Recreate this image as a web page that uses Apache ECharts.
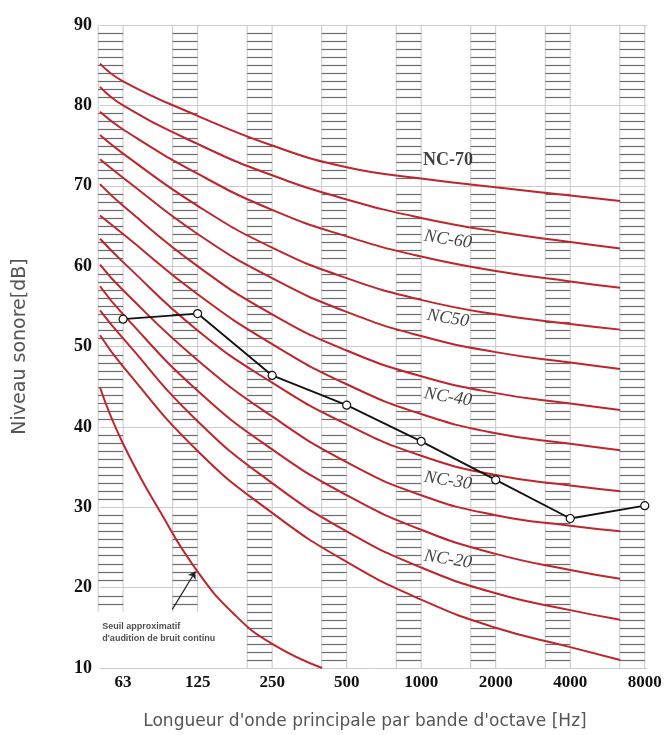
<!DOCTYPE html>
<html>
<head>
<meta charset="utf-8">
<script src="https://cdn.jsdelivr.net/npm/echarts@6/dist/echarts.min.js"></script>
<style>
  html, body { margin: 0; padding: 0; background: #fff; }
  #graphique { width: 669px; height: 735px; }
</style>
</head>
<body>
<div id="graphique"></div>
<script>
// Bandes d'octave (étiquettes de l'axe horizontal)
const frequences = ['63', '125', '250', '500', '1000', '2000', '4000', '8000'];

// Spectre mesuré (dB) par bande d'octave
const niveauxMesures = [53.4, 54.1, 46.4, 42.7, 38.2, 33.4, 28.6, 30.2];

// Abscisses des points des courbes NC (indices de bande ; début et fin du tracé aux extrémités)
const abscissesCourbes = [-0.31, 0, 1, 2, 3, 4, 5, 6, 6.67];

// Courbes NC (dB)
const nc70 = [85.2, 83.0, 78.7, 75.0, 72.3, 70.9, 69.8, 68.8, 68.1];
const nc65 = [82.3, 80.0, 75.2, 71.3, 68.3, 66.0, 64.3, 63.0, 62.2];
const nc60 = [79.2, 77.0, 71.5, 67.0, 63.7, 61.2, 59.4, 58.1, 57.3];
const nc55 = [76.3, 74.0, 67.5, 62.3, 58.5, 55.8, 54.0, 52.8, 52.1];
const nc50 = [73.3, 71.0, 64.0, 58.5, 54.3, 51.3, 49.3, 48.0, 47.2];
const nc45 = [70.2, 67.5, 60.0, 54.0, 49.5, 46.3, 44.2, 42.9, 42.1];
const nc40 = [66.3, 64.0, 56.5, 50.3, 45.3, 41.6, 39.2, 37.9, 37.1];
const nc35 = [63.4, 60.5, 52.0, 45.5, 40.3, 36.4, 34.0, 32.7, 32.0];
const nc30 = [60.2, 57.0, 48.3, 41.3, 35.6, 31.5, 29.0, 27.7, 27.0];
const nc25 = [57.5, 54.0, 44.5, 37.2, 31.5, 27.2, 24.2, 22.2, 21.1];
const nc20 = [54.5, 51.0, 40.7, 33.0, 27.0, 22.5, 19.3, 17.2, 16.0];
const nc15 = [51.4, 47.5, 37.0, 29.3, 23.2, 18.5, 15.0, 12.6, 11.0];
const courbesNC = [nc70, nc65, nc60, nc55, nc50, nc45, nc40, nc35, nc30, nc25, nc20, nc15];

// Seuil approximatif d'audition de bruit continu
const seuilX = [-0.31, 0, 0.5, 1.0, 1.5, 2.0, 2.67];
const seuilY = [44.9, 37.9, 29.4, 22.0, 16.6, 13.0, 10.0];

// Étiquettes des courbes
const etiquettesNC = ['NC-70', 'NC-60', 'NC50', 'NC-40', 'NC-30', 'NC-20'];
const niveauxEtiquettes = [73.2, 63.3, 53.5, 43.7, 33.3, 23.5];
const abscisseEtiquettes = 4.36;

// Bandes hachurées : niveau bas de chaque bande
const basBandes = [17, 17, 10, 10, 10, 10, 10, 10];
const hautBandes = 90;
const largeurBande = 0.335;

// Flèche de l'annotation du seuil
const flecheDebut = [0.66, 17.3];
const flecheFin = [0.97, 22.0];
const positionNote = [-0.28, 14.4];
const texteNote = 'Seuil approximatif\nd\'audition de bruit continu';

const ROUGE = '#bd262d';

function dessinerBande(params, api) {
  const idx = api.value(0);
  const bas = api.value(1);
  const xd = api.coord([idx, hautBandes])[0];
  const xg = api.coord([idx - largeurBande, hautBandes])[0];
  const yHaut = api.coord([idx, hautBandes])[1];
  const yBas = api.coord([idx, bas])[1];
  const enfants = [
    { type: 'line', shape: { x1: xg, y1: yHaut, x2: xg, y2: yBas }, style: { stroke: '#c8c8c8', lineWidth: 1 } },
    { type: 'line', shape: { x1: xd, y1: yHaut, x2: xd, y2: yBas }, style: { stroke: '#c8c8c8', lineWidth: 1 } }
  ];
  for (let v = Math.ceil(bas) + 1; v < hautBandes; v++) {
    if (v % 10 === 0) continue;
    const y = Math.round(api.coord([idx, v])[1]) + 0.5;
    enfants.push({ type: 'line', shape: { x1: xg, y1: y, x2: xd, y2: y }, style: { stroke: '#6c6c6c', lineWidth: 1.2 } });
  }
  return { type: 'group', children: enfants };
}

const series = [];

series.push({
  name: 'bandes',
  type: 'custom',
  renderItem: dessinerBande,
  data: basBandes.map((b, i) => [i, b]),
  z: 1,
  silent: true
});

courbesNC.forEach((valeurs, k) => {
  series.push({
    name: 'NC' + k,
    type: 'line',
    data: abscissesCourbes.map((x, i) => [x, valeurs[i]]),
    smooth: 0.5,
    showSymbol: false,
    lineStyle: { color: ROUGE, width: 2 },
    z: 3,
    silent: true
  });
});

series.push({
  name: 'seuil',
  type: 'line',
  data: seuilX.map((x, i) => [x, seuilY[i]]),
  smooth: 0.5,
  showSymbol: false,
  lineStyle: { color: ROUGE, width: 2 },
  z: 3,
  silent: true,
  markLine: {
    silent: true,
    symbol: ['none', 'arrow'],
    symbolSize: 7,
    lineStyle: { color: '#222', width: 1.2, type: 'solid' },
    label: { show: false },
    data: [[{ coord: flecheDebut }, { coord: flecheFin }]]
  }
});

series.push({
  name: 'mesure',
  type: 'line',
  data: niveauxMesures.map((v, i) => [i, v]),
  symbol: 'circle',
  symbolSize: 8,
  itemStyle: { color: '#fff', borderColor: '#111', borderWidth: 1.2 },
  lineStyle: { color: '#111', width: 1.8 },
  z: 5,
  silent: true
});

series.push({
  name: 'etiquettes',
  type: 'scatter',
  symbolSize: 0,
  z: 6,
  silent: true,
  data: etiquettesNC.map((t, i) => ({
    value: [abscisseEtiquettes, niveauxEtiquettes[i]],
    label: {
      show: true,
      position: 'inside',
      formatter: t,
      rotate: i === 0 ? 0 : -9,
      fontStyle: i === 0 ? 'normal' : 'italic',
      fontWeight: i === 0 ? 'bold' : 'normal',
      fontFamily: 'Liberation Serif',
      fontSize: 18,
      color: '#111',
      textBorderWidth: 0
    }
  }))
});

series.push({
  name: 'note',
  type: 'scatter',
  symbolSize: 0,
  z: 6,
  silent: true,
  data: [{
    value: positionNote,
    label: {
      show: true,
      position: 'right',
      distance: 0,
      formatter: texteNote,
      fontFamily: 'Liberation Sans',
      fontWeight: 'bold',
      fontSize: 9,
      lineHeight: 12,
      color: '#222'
    }
  }]
});

const graphique = echarts.init(document.getElementById('graphique'), null, { renderer: 'canvas' });
graphique.setOption({
  animation: false,
  backgroundColor: '#fff',
  grid: { left: 100, right: 22, top: 25, bottom: 57, containLabel: false },
  xAxis: {
    type: 'value',
    min: -0.31,
    max: 7.03,
    name: "Longueur d'onde principale par bande d'octave [Hz]",
    nameLocation: 'middle',
    nameGap: 45,
    nameTextStyle: { fontFamily: 'DejaVu Sans', fontSize: 17, color: '#555', padding: [0, 17, 0, 0] },
    axisLine: { show: false },
    axisTick: { show: false },
    splitLine: { show: false },
    axisLabel: {
      customValues: [0, 1, 2, 3, 4, 5, 6, 7],
      formatter: v => frequences[Math.round(v)],
      fontFamily: 'Liberation Serif',
      fontWeight: 'bold',
      fontSize: 17,
      color: '#111',
      margin: 6
    }
  },
  yAxis: {
    type: 'value',
    min: 10,
    max: 90,
    interval: 10,
    name: 'Niveau sonore[dB]',
    nameLocation: 'middle',
    nameGap: 70,
    nameTextStyle: { fontFamily: 'DejaVu Sans', fontSize: 19, color: '#555' },
    axisLine: { show: false },
    axisTick: { show: false },
    splitLine: { show: true, lineStyle: { color: '#cccccc', width: 1 } },
    axisLabel: {
      fontFamily: 'Liberation Serif',
      fontWeight: 'bold',
      fontSize: 18,
      color: '#111',
      margin: 8
    }
  },
  series: series
});
</script>
</body>
</html>
